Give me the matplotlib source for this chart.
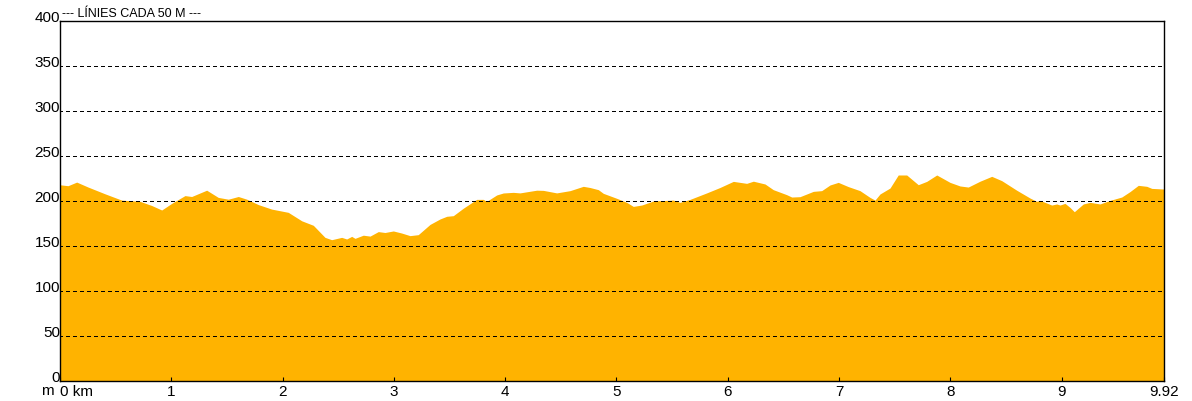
import numpy as np
import matplotlib.pyplot as plt

plt.rcParams['font.family'] = ['Liberation Sans', 'DejaVu Sans']

# perfil: distància (km) i altitud (m)
dist_km = [0.0, 0.072, 0.15, 0.252, 0.404, 0.554, 0.719, 0.824, 0.914, 1.004,
           1.123, 1.183, 1.318, 1.422, 1.512, 1.602, 1.678, 1.782, 1.902, 2.051,
           2.172, 2.276, 2.381, 2.441, 2.531, 2.576, 2.621, 2.651, 2.725, 2.786,
           2.860, 2.920, 2.995, 3.070, 3.145, 3.219, 3.325, 3.414, 3.475, 3.534,
           3.624, 3.744, 3.804, 3.834, 3.924, 3.983, 4.073, 4.133, 4.283, 4.343,
           4.463, 4.583, 4.702, 4.762, 4.837, 4.882, 5.002, 5.092, 5.151, 5.227,
           5.331, 5.511, 5.571, 5.661, 5.811, 5.930, 6.050, 6.170, 6.230, 6.335,
           6.409, 6.530, 6.575, 6.649, 6.769, 6.844, 6.919, 6.993, 7.083, 7.188,
           7.278, 7.323, 7.368, 7.458, 7.532, 7.608, 7.712, 7.788, 7.878, 7.997,
           8.087, 8.161, 8.267, 8.372, 8.462, 8.596, 8.716, 8.776, 8.806, 8.911,
           8.956, 8.986, 9.030, 9.075, 9.114, 9.195, 9.255, 9.345, 9.435, 9.540,
           9.614, 9.689, 9.765, 9.810, 9.92]
alt_m = [218, 217, 221, 215.5, 208, 201, 199.6, 195, 190, 197.4,
         206, 205, 212, 204, 202, 205, 202, 196, 191, 187.4,
         178, 173, 159.6, 157, 159.6, 157.8, 160.7, 158.5, 162, 161,
         166, 165, 166.7, 164.4, 161.5, 162.6, 174, 180, 183, 183.7,
         192, 201.8, 201.8, 199.6, 206.7, 208.9, 209.6, 209, 212, 211.8,
         209, 211.5, 216.3, 215, 212.6, 208.5, 203, 198.5, 194, 195.5,
         200, 201, 198.5, 201.8, 209, 215, 221.8, 219.6, 222, 218.9,
         212.6, 207, 204.4, 204.8, 210.7, 211.5, 217.8, 220.7, 216, 211.5,
         204, 201, 207.8, 214.4, 228.9, 228.9, 218.1, 221.8, 228.9, 220.7,
         216.7, 215.5, 222, 227.4, 222.6, 212, 203.3, 199.6, 200.7, 195.5,
         196.7, 195.5, 197.4, 192.9, 188.1, 196.7, 198.5, 196.7, 200.7, 204.4,
         210.4, 217.4, 216.3, 214, 213.3]

y_ticks = [0, 50, 100, 150, 200, 250, 300, 350, 400]
x_ticks = [0, 1, 2, 3, 4, 5, 6, 7, 8, 9, 9.92]
x_labels = ['0 km', '1', '2', '3', '4', '5', '6', '7', '8', '9', '9.92']

fig = plt.figure(figsize=(11.92, 4.02), dpi=100)
ax = fig.add_axes([60 / 1192, 1 - 382 / 402, 1104 / 1192, 360 / 402])

ax.fill_between(dist_km, 0, alt_m, color='#FFB300', linewidth=0, zorder=1)

# línies cada 50 m, per sobre del perfil
for y in y_ticks[1:-1]:
    ax.axhline(y, color='black', linewidth=0.75, linestyle=(1, (3, 3)),
               antialiased=False, zorder=2)

ax.set_xlim(0, 9.92)
ax.set_ylim(0, 400)
ax.set_yticks(y_ticks)
ax.set_yticklabels([str(v) for v in y_ticks])
ax.set_xticks(x_ticks)
ax.set_xticklabels(x_labels)

ax.tick_params(axis='y', length=0, pad=0, labelsize=11)
ax.tick_params(axis='x', direction='in', length=3, width=0.8, pad=2, labelsize=11)
for lab in ax.get_yticklabels():
    lab.set_va('baseline')
ax.get_xticklabels()[0].set_ha('left')

for s in ax.spines.values():
    s.set_color('black')
    s.set_linewidth(1)
    s.set_zorder(3)

ax.text(-0.006, -0.006, 'm', transform=ax.transAxes, ha='right', va='top', fontsize=11)
ax.text(0.002, 1.005, '--- LÍNIES CADA 50 M ---', transform=ax.transAxes,
        ha='left', va='bottom', fontsize=9)

fig.savefig('out.png', dpi=100)
